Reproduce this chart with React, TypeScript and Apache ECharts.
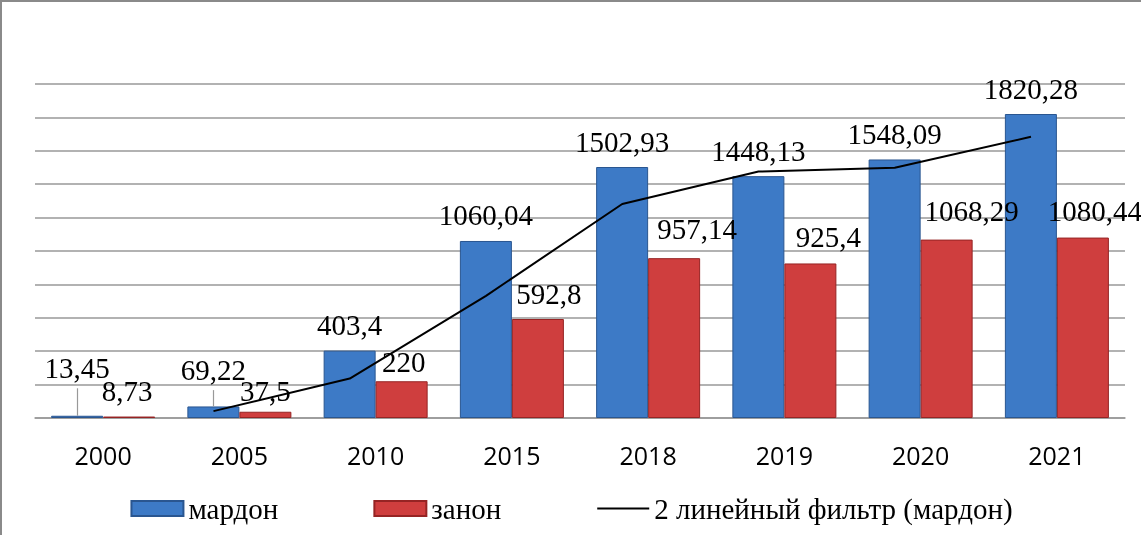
import React, { useEffect, useRef } from "react";
import * as echarts from "echarts";

const categories = ["2000", "2005", "2010", "2015", "2018", "2019", "2020", "2021"];
const mardon = [13.45, 69.22, 403.4, 1060.04, 1502.93, 1448.13, 1548.09, 1820.28];
const zanon = [8.73, 37.5, 220, 592.8, 957.14, 925.4, 1068.29, 1080.44];
// 2-period moving average line (starts at 2005)
const trendValues = [null, 41.3, 236.3, 731.7, 1281.5, 1475.5, 1498.1, 1684.2];

// label shifts (layout only)
const mardonLabelShift = [[0, -22], [0, -11], [0, 0], [0, 0], [0, 0], [0, 0], [0, 0], [0, 0]];
const zanonLabelShift = [[-2, 0], [0, 5], [2, 6], [11, 0], [23, -4], [18, -1], [25, -3], [12, -1]];

const fmt = (v: number) => String(v).replace(".", ",");

export default function App() {
  const ref = useRef<HTMLDivElement>(null);
  useEffect(() => {
    const chart = echarts.init(ref.current!, null, { renderer: "svg" });
    const blueOffset = -0.19;
    const lbl = (shift: number[]) => ({
      show: true,
      position: "top",
      distance: 11,
      offset: shift,
      fontFamily: "serif",
      fontSize: 29,
      color: "#000",
      textBorderWidth: 0,
      textBorderColor: "transparent",
      formatter: (p: any) => fmt(p.value),
    });
    chart.setOption({
      animation: false,
      grid: { left: 33, right: 16, top: 82, bottom: 117, containLabel: false },
      legend: {
        left: "center",
        top: 487,
        itemWidth: 52,
        itemHeight: 15,
        itemGap: 95,
        textStyle: { fontFamily: "serif", fontSize: 29, color: "#000" },
        data: [
          { name: "мардон", icon: "rect" },
          { name: "занон", icon: "rect" },
          { name: "2 линейный фильтр (мардон)", itemStyle: { opacity: 0 } },
        ],
      },
      xAxis: [
        {
          type: "category",
          data: categories,
          axisLine: { show: true, lineStyle: { color: "#999", width: 1.5 } },
          axisTick: { show: false },
          axisLabel: {
            fontFamily: "Open Sans",
            fontSize: 25,
            color: "#000",
            margin: 24,
          },
        },
        { type: "value", min: -0.5, max: 7.5, show: false },
      ],
      yAxis: {
        type: "value",
        min: 0,
        max: 2000,
        interval: 200,
        axisLabel: { show: false },
        axisLine: { show: false },
        axisTick: { show: false },
        splitLine: { lineStyle: { color: "#999", width: 1.5 } },
      },
      series: [
        {
          name: "мардон",
          type: "bar",
          data: mardon.map((v, i) => ({ value: v, label: lbl(mardonLabelShift[i]) })),
          barWidth: 52,
          barGap: "0%",
          itemStyle: { color: "#3d7ac6", borderColor: "#2a5690", borderWidth: 1 },
          label: lbl([0, 0]),
        },
        {
          name: "занон",
          type: "bar",
          data: zanon.map((v, i) => ({ value: v, label: lbl(zanonLabelShift[i]) })),
          barWidth: 52,
          itemStyle: { color: "#cf3e3e", borderColor: "#962424", borderWidth: 1 },
          label: lbl([0, 0]),
        },
        {
          name: "2 линейный фильтр (мардон)",
          type: "line",
          xAxisIndex: 1,
          data: trendValues
            .map((v, i) => (v === null ? null : [i + blueOffset, v]))
            .filter((d) => d !== null),
          symbol: "none",
          lineStyle: { color: "#000", width: 2 },
          itemStyle: { color: "#000" },
          z: 5,
          markLine: {
            silent: true,
            symbol: "none",
            label: { show: false },
            lineStyle: { color: "#999", width: 1.2, type: "solid" },
            data: [
              [{ coord: [0 + blueOffset, mardon[0]] }, { coord: [0 + blueOffset, 178] }],
              [{ coord: [1 + blueOffset, mardon[1]] }, { coord: [1 + blueOffset, 167] }],
            ],
          },
        },
      ],
    });
    return () => chart.dispose();
  }, []);
  return (
    <div
      ref={ref}
      style={{
        position: "fixed",
        left: 0,
        top: 0,
        width: 1141,
        height: 535,
        borderTop: "2px solid #8a8a8a",
        borderLeft: "2px solid #8a8a8a",
        boxSizing: "border-box",
      }}
    />
  );
}
